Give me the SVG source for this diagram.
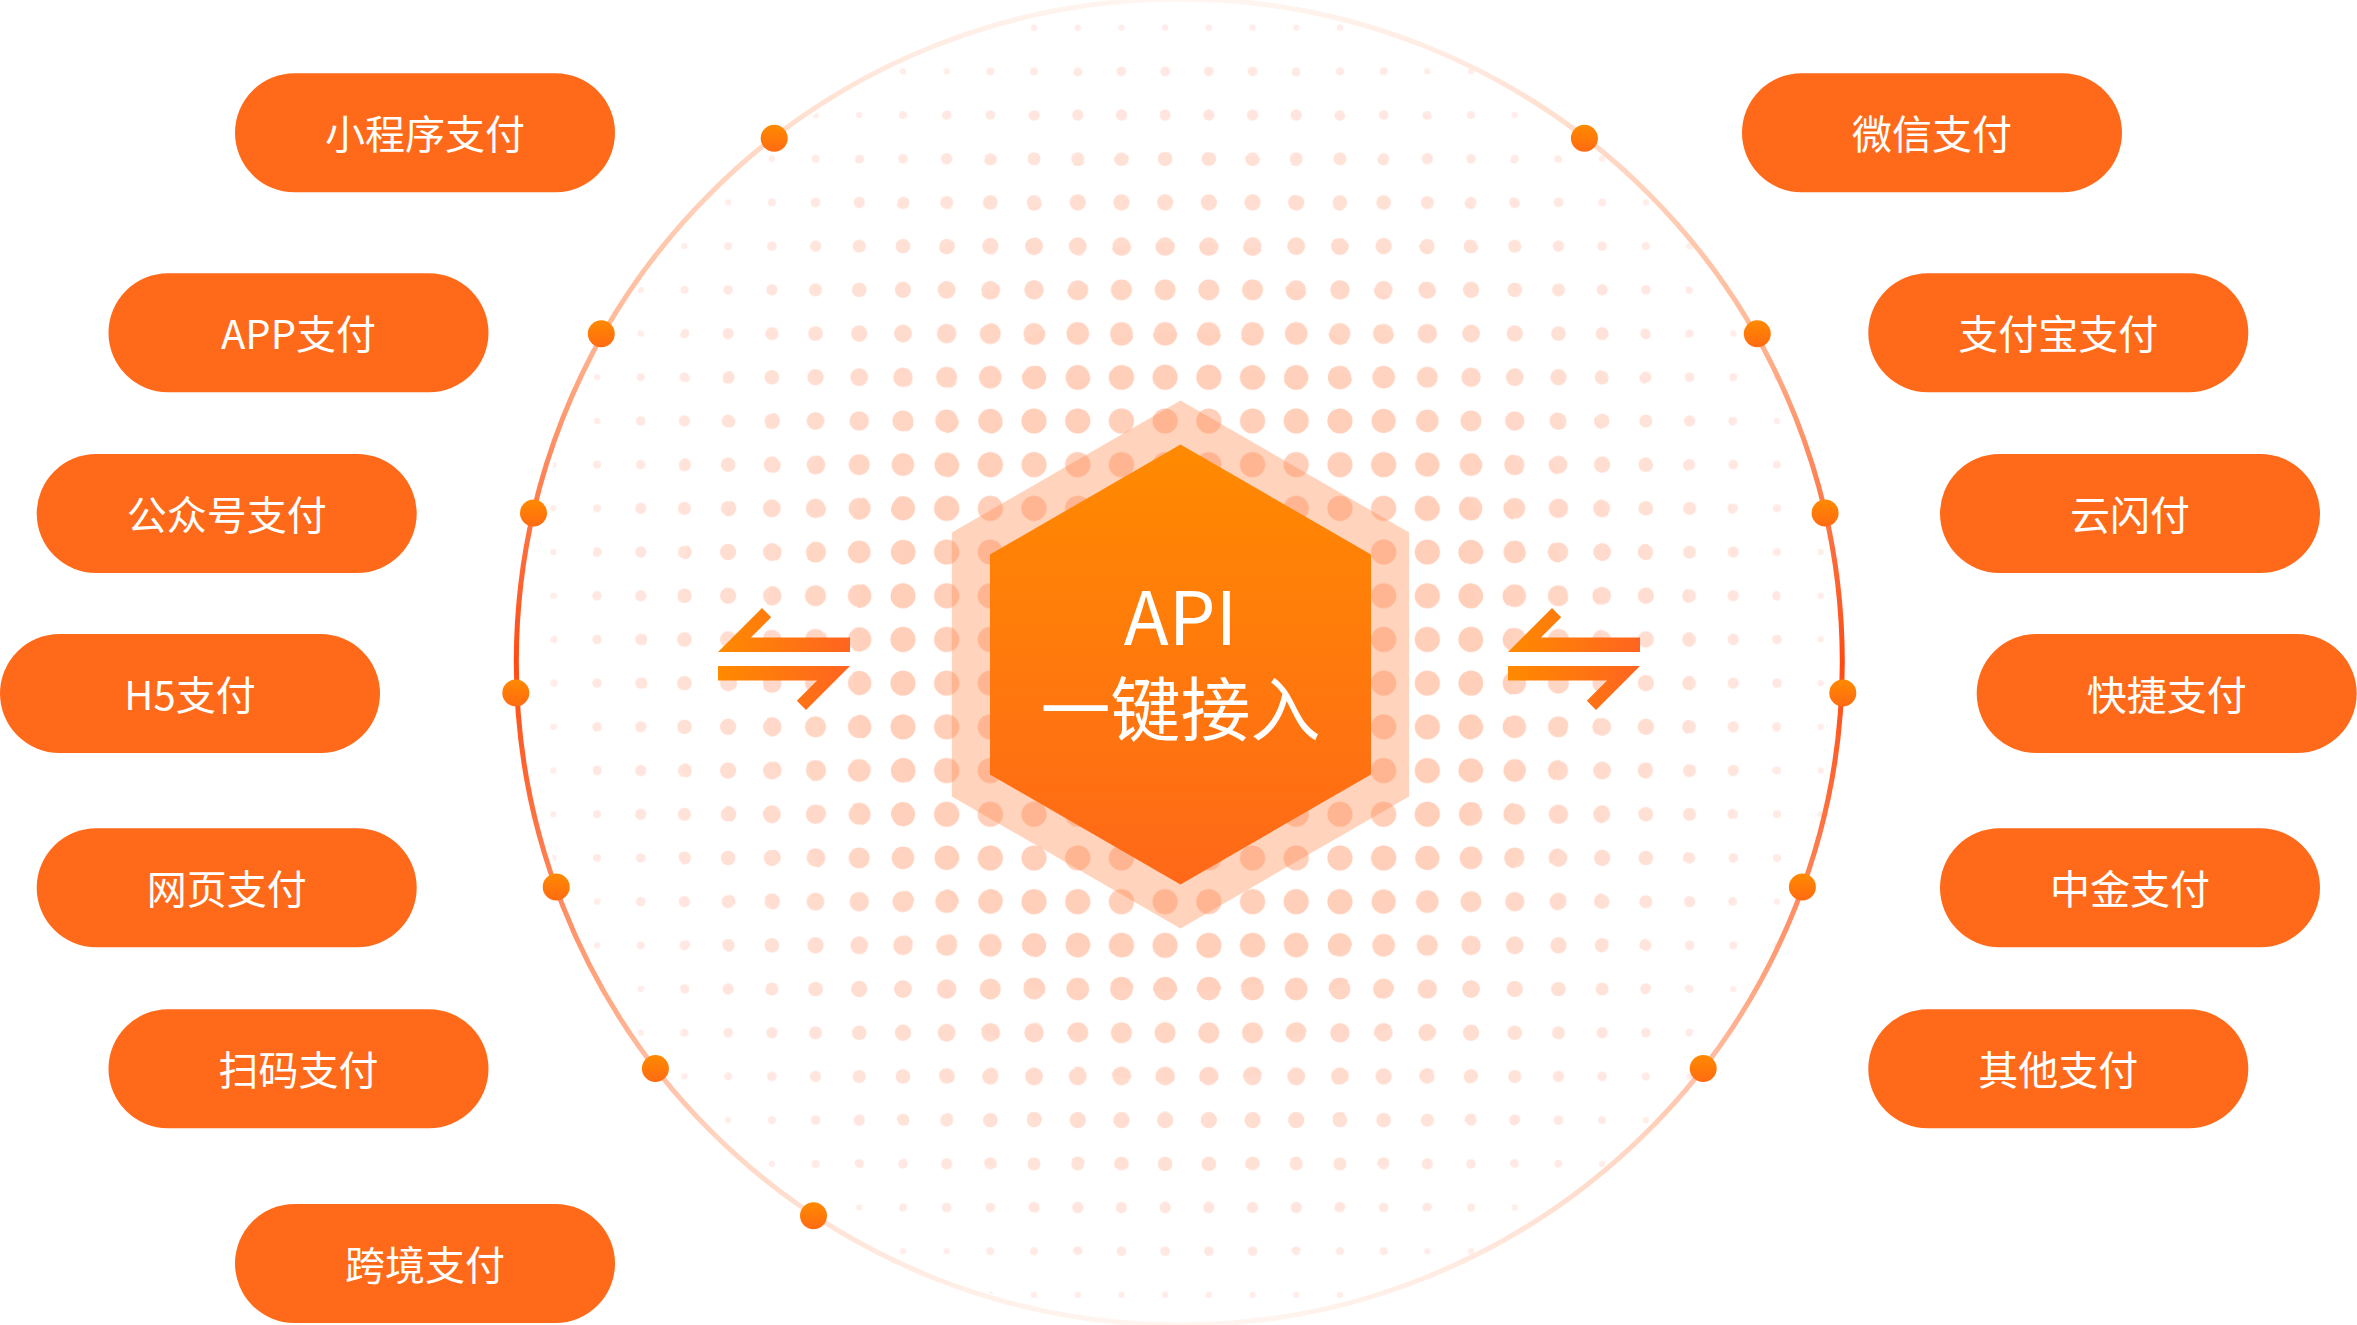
<svg xmlns="http://www.w3.org/2000/svg" width="2357" height="1325" viewBox="0 0 2357 1325">
<style>
.pill{fill:#FF6A1A}
.pt{font-family:"Noto Sans CJK SC","Noto Sans",sans-serif;font-size:40px;fill:#FFFFFF;text-anchor:middle}
.ht{font-family:"Noto Sans CJK SC","Noto Sans",sans-serif;fill:#FFFFFF;text-anchor:middle}
.rd{fill:url(#dotG)}
</style>
<defs>
<linearGradient id="dotG" x1="0" y1="0" x2="0" y2="1"><stop offset="0" stop-color="#FF8A00"/><stop offset="1" stop-color="#FF6A12"/></linearGradient>
<linearGradient id="hexG" x1="0" y1="0" x2="0" y2="1"><stop offset="0" stop-color="#FF8A00"/><stop offset="1" stop-color="#FF6818"/></linearGradient>
<linearGradient id="arrG" x1="0" y1="0" x2="1" y2="0"><stop offset="0" stop-color="#FF8A00"/><stop offset="1" stop-color="#FF6420"/></linearGradient>
<linearGradient id="ringG" gradientUnits="userSpaceOnUse" x1="0" y1="0" x2="0" y2="1325">
<stop offset="0" stop-color="#FFF5F0"/>
<stop offset="0.1" stop-color="#FFDCCB"/>
<stop offset="0.25" stop-color="#FFB896"/>
<stop offset="0.38" stop-color="#FF7A4A"/>
<stop offset="0.5" stop-color="#FF4A12"/>
<stop offset="0.6" stop-color="#FF6A38"/>
<stop offset="0.72" stop-color="#FF9C74"/>
<stop offset="0.86" stop-color="#FFD4C0"/>
<stop offset="1" stop-color="#FFF5F0"/>
</linearGradient>
<pattern id="pc" patternUnits="userSpaceOnUse" x="1143.3" y="617.6" width="43.7" height="43.7"><circle cx="21.85" cy="21.85" r="12.5" fill="#FFCFBA"/></pattern>
<pattern id="p0" patternUnits="userSpaceOnUse" x="1143.3" y="617.6" width="43.7" height="43.7"><circle cx="21.85" cy="21.85" r="12.1" fill="#FFD0BC"/></pattern>
<pattern id="p1" patternUnits="userSpaceOnUse" x="1143.3" y="617.6" width="43.7" height="43.7"><circle cx="21.85" cy="21.85" r="11.3" fill="#FFD3C0"/></pattern>
<pattern id="p2" patternUnits="userSpaceOnUse" x="1143.3" y="617.6" width="43.7" height="43.7"><circle cx="21.85" cy="21.85" r="10.5" fill="#FFD6C4"/></pattern>
<pattern id="p3" patternUnits="userSpaceOnUse" x="1143.3" y="617.6" width="43.7" height="43.7"><circle cx="21.85" cy="21.85" r="9.7" fill="#FFD8C9"/></pattern>
<pattern id="p4" patternUnits="userSpaceOnUse" x="1143.3" y="617.6" width="43.7" height="43.7"><circle cx="21.85" cy="21.85" r="8.9" fill="#FFDBCD"/></pattern>
<pattern id="p5" patternUnits="userSpaceOnUse" x="1143.3" y="617.6" width="43.7" height="43.7"><circle cx="21.85" cy="21.85" r="8.1" fill="#FFDDD1"/></pattern>
<pattern id="p6" patternUnits="userSpaceOnUse" x="1143.3" y="617.6" width="43.7" height="43.7"><circle cx="21.85" cy="21.85" r="7.3" fill="#FFE0D5"/></pattern>
<pattern id="p7" patternUnits="userSpaceOnUse" x="1143.3" y="617.6" width="43.7" height="43.7"><circle cx="21.85" cy="21.85" r="6.5" fill="#FFE3D9"/></pattern>
<pattern id="p8" patternUnits="userSpaceOnUse" x="1143.3" y="617.6" width="43.7" height="43.7"><circle cx="21.85" cy="21.85" r="5.6" fill="#FFE5DD"/></pattern>
<pattern id="p9" patternUnits="userSpaceOnUse" x="1143.3" y="617.6" width="43.7" height="43.7"><circle cx="21.85" cy="21.85" r="4.8" fill="#FFE8E2"/></pattern>
<pattern id="p10" patternUnits="userSpaceOnUse" x="1143.3" y="617.6" width="43.7" height="43.7"><circle cx="21.85" cy="21.85" r="4.0" fill="#FFEAE6"/></pattern>
<pattern id="p11" patternUnits="userSpaceOnUse" x="1143.3" y="617.6" width="43.7" height="43.7"><circle cx="21.85" cy="21.85" r="3.2" fill="#FFEDEA"/></pattern>
</defs>
<rect x="0" y="0" width="2357" height="1325" fill="#FFFFFF"/>
<g id="dot-field">
<circle cx="1183" cy="662" r="660" fill="url(#p11)"/>
<circle cx="1183" cy="662" r="630" fill="url(#p10)"/>
<circle cx="1183" cy="662" r="600" fill="url(#p9)"/>
<circle cx="1183" cy="662" r="570" fill="url(#p8)"/>
<circle cx="1183" cy="662" r="540" fill="url(#p7)"/>
<circle cx="1183" cy="662" r="510" fill="url(#p6)"/>
<circle cx="1183" cy="662" r="480" fill="url(#p5)"/>
<circle cx="1183" cy="662" r="450" fill="url(#p4)"/>
<circle cx="1183" cy="662" r="420" fill="url(#p3)"/>
<circle cx="1183" cy="662" r="390" fill="url(#p2)"/>
<circle cx="1183" cy="662" r="360" fill="url(#p1)"/>
<circle cx="1183" cy="662" r="330" fill="url(#p0)"/>
<circle cx="1183" cy="662" r="300" fill="url(#pc)"/>
</g>
<g id="ring">
<circle cx="1179.3" cy="662" r="663" fill="none" stroke="url(#ringG)" stroke-width="5"/>
<circle class="rd" cx="774.2" cy="138.3" r="13.5"/>
<circle class="rd" cx="601.3" cy="333.7" r="13.5"/>
<circle class="rd" cx="533.5" cy="513" r="13.5"/>
<circle class="rd" cx="515.8" cy="693" r="13.5"/>
<circle class="rd" cx="556.2" cy="887" r="13.5"/>
<circle class="rd" cx="655.4" cy="1068.5" r="13.5"/>
<circle class="rd" cx="813.5" cy="1215.7" r="13.5"/>
<circle class="rd" cx="1584.4" cy="138.3" r="13.5"/>
<circle class="rd" cx="1757.3" cy="333.7" r="13.5"/>
<circle class="rd" cx="1825.1" cy="513" r="13.5"/>
<circle class="rd" cx="1842.8" cy="693" r="13.5"/>
<circle class="rd" cx="1802.4" cy="887" r="13.5"/>
<circle class="rd" cx="1703.2" cy="1068.5" r="13.5"/>
</g>
<g id="api-hub">
<polygon points="1180.5,400.5 1409.1,532.5 1409.1,796.5 1180.5,928.5 951.9,796.5 951.9,532.5" fill="#FF8C50" fill-opacity="0.38"/>
<polygon points="1180.5,444.5 1371,554.5 1371,774.5 1180.5,884.5 990,774.5 990,554.5" fill="url(#hexG)"/>
<text class="ht" x="1180.5" y="645" font-size="74">API</text>
<text class="ht" x="1180.5" y="736" font-size="70">一键接入</text>
</g>
<g id="connectors" fill="url(#arrG)">
<g id="arrow-left">
<polygon points="718,652 762,608 771.2,617.2 750.9,637.5 850,637.5 850,652"/>
<polygon points="718,666 850,666 806,710 796.8,700.8 817.1,680.5 718,680.5"/>
</g>
<g id="arrow-right" transform="translate(790,0)">
<polygon points="718,652 762,608 771.2,617.2 750.9,637.5 850,637.5 850,652"/>
<polygon points="718,666 850,666 806,710 796.8,700.8 817.1,680.5 718,680.5"/>
</g>
</g>
<g id="node-miniprogram"><rect class="pill" x="235" y="73.3" width="380" height="119" rx="59.5"/><text class="pt" x="425" y="148.8">小程序支付</text></g>
<g id="node-app"><rect class="pill" x="108.5" y="273.3" width="380" height="119" rx="59.5"/><text class="pt" x="298.5" y="348.8">APP支付</text></g>
<g id="node-official"><rect class="pill" x="36.7" y="454" width="380" height="119" rx="59.5"/><text class="pt" x="226.7" y="529.5">公众号支付</text></g>
<g id="node-h5"><rect class="pill" x="0" y="634" width="380" height="119" rx="59.5"/><text class="pt" x="190" y="709.5">H5支付</text></g>
<g id="node-web"><rect class="pill" x="36.7" y="828.3" width="380" height="119" rx="59.5"/><text class="pt" x="226.7" y="903.8">网页支付</text></g>
<g id="node-scan"><rect class="pill" x="108.5" y="1009.3" width="380" height="119" rx="59.5"/><text class="pt" x="298.5" y="1084.8">扫码支付</text></g>
<g id="node-crossborder"><rect class="pill" x="235" y="1204" width="380" height="119" rx="59.5"/><text class="pt" x="425" y="1279.5">跨境支付</text></g>
<g id="node-wechat"><rect class="pill" x="1742" y="73.3" width="380" height="119" rx="59.5"/><text class="pt" x="1932" y="148.8">微信支付</text></g>
<g id="node-alipay"><rect class="pill" x="1868.3" y="273.3" width="380" height="119" rx="59.5"/><text class="pt" x="2058.3" y="348.8">支付宝支付</text></g>
<g id="node-unionpay"><rect class="pill" x="1940" y="454" width="380" height="119" rx="59.5"/><text class="pt" x="2130" y="529.5">云闪付</text></g>
<g id="node-quickpay"><rect class="pill" x="1976.7" y="634" width="380" height="119" rx="59.5"/><text class="pt" x="2166.7" y="709.5">快捷支付</text></g>
<g id="node-cpcn"><rect class="pill" x="1940" y="828.3" width="380" height="119" rx="59.5"/><text class="pt" x="2130" y="903.8">中金支付</text></g>
<g id="node-other"><rect class="pill" x="1868.3" y="1009.3" width="380" height="119" rx="59.5"/><text class="pt" x="2058.3" y="1084.8">其他支付</text></g>
</svg>
